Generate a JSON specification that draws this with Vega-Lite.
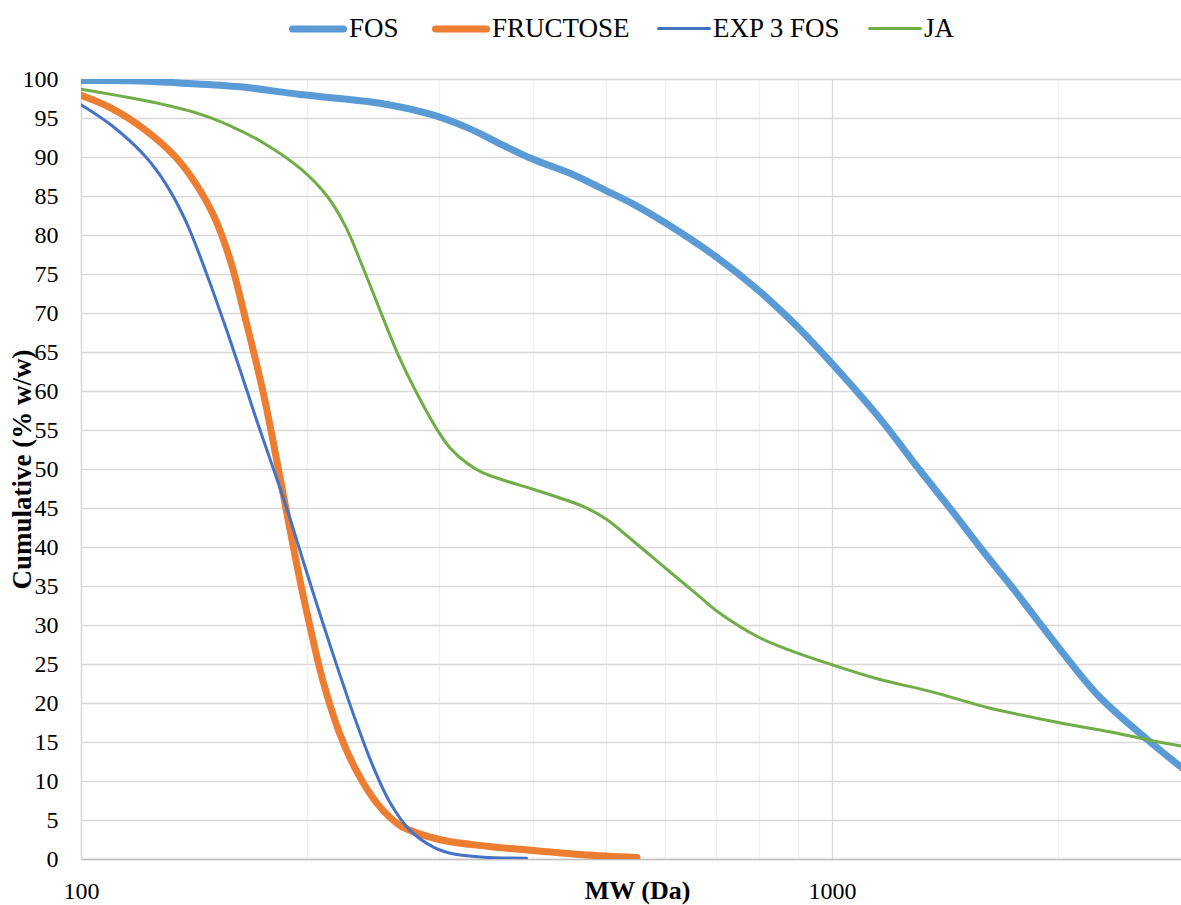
{
  "$schema": "https://vega.github.io/schema/vega-lite/v6.json",
  "width": 1100,
  "height": 780,
  "autosize": {"type": "none"},
  "padding": {"left": 81, "top": 79, "right": 0, "bottom": 46},
  "background": "white",
  "config": {"view": {"stroke": null}, "font": "Liberation Serif"},
  "data": {"values": [
    {"series": "FOS", "mw": 100, "pct": 99.8},
    {"series": "FOS", "mw": 120, "pct": 99.75},
    {"series": "FOS", "mw": 135, "pct": 99.5},
    {"series": "FOS", "mw": 163, "pct": 99.0},
    {"series": "FOS", "mw": 196, "pct": 98.0},
    {"series": "FOS", "mw": 250, "pct": 96.9},
    {"series": "FOS", "mw": 294, "pct": 95.4},
    {"series": "FOS", "mw": 328, "pct": 93.7},
    {"series": "FOS", "mw": 365, "pct": 91.5},
    {"series": "FOS", "mw": 400, "pct": 89.7},
    {"series": "FOS", "mw": 453, "pct": 87.7},
    {"series": "FOS", "mw": 500, "pct": 85.7},
    {"series": "FOS", "mw": 543, "pct": 84.0},
    {"series": "FOS", "mw": 601, "pct": 81.5},
    {"series": "FOS", "mw": 701, "pct": 77.2},
    {"series": "FOS", "mw": 798, "pct": 72.9},
    {"series": "FOS", "mw": 900, "pct": 68.2},
    {"series": "FOS", "mw": 1000, "pct": 63.5},
    {"series": "FOS", "mw": 1162, "pct": 56.3},
    {"series": "FOS", "mw": 1288, "pct": 50.7},
    {"series": "FOS", "mw": 1443, "pct": 44.7},
    {"series": "FOS", "mw": 1597, "pct": 39.2},
    {"series": "FOS", "mw": 1748, "pct": 34.5},
    {"series": "FOS", "mw": 2000, "pct": 27.2},
    {"series": "FOS", "mw": 2270, "pct": 20.8},
    {"series": "FOS", "mw": 2630, "pct": 15.3},
    {"series": "FOS", "mw": 2915, "pct": 11.8},
    {"series": "FOS", "mw": 3000, "pct": 10.9},
    {"series": "FRUCTOSE", "mw": 100, "pct": 97.9},
    {"series": "FRUCTOSE", "mw": 110, "pct": 96.2},
    {"series": "FRUCTOSE", "mw": 122, "pct": 93.4},
    {"series": "FRUCTOSE", "mw": 133, "pct": 90.2},
    {"series": "FRUCTOSE", "mw": 141, "pct": 87.1},
    {"series": "FRUCTOSE", "mw": 150, "pct": 82.6},
    {"series": "FRUCTOSE", "mw": 158, "pct": 76.8},
    {"series": "FRUCTOSE", "mw": 166, "pct": 68.8},
    {"series": "FRUCTOSE", "mw": 175, "pct": 59.6},
    {"series": "FRUCTOSE", "mw": 183, "pct": 50.2},
    {"series": "FRUCTOSE", "mw": 194, "pct": 37.5},
    {"series": "FRUCTOSE", "mw": 202, "pct": 29.6},
    {"series": "FRUCTOSE", "mw": 210, "pct": 22.8},
    {"series": "FRUCTOSE", "mw": 221, "pct": 16.1},
    {"series": "FRUCTOSE", "mw": 233, "pct": 11.2},
    {"series": "FRUCTOSE", "mw": 248, "pct": 7.1},
    {"series": "FRUCTOSE", "mw": 266, "pct": 4.3},
    {"series": "FRUCTOSE", "mw": 300, "pct": 2.5},
    {"series": "FRUCTOSE", "mw": 350, "pct": 1.6},
    {"series": "FRUCTOSE", "mw": 400, "pct": 1.1},
    {"series": "FRUCTOSE", "mw": 466, "pct": 0.55},
    {"series": "FRUCTOSE", "mw": 550, "pct": 0.2},
    {"series": "EXP 3 FOS", "mw": 100, "pct": 96.7},
    {"series": "EXP 3 FOS", "mw": 110, "pct": 94.0},
    {"series": "EXP 3 FOS", "mw": 122, "pct": 90.0},
    {"series": "EXP 3 FOS", "mw": 130, "pct": 86.4},
    {"series": "EXP 3 FOS", "mw": 138, "pct": 81.7},
    {"series": "EXP 3 FOS", "mw": 147, "pct": 75.0},
    {"series": "EXP 3 FOS", "mw": 155, "pct": 68.8},
    {"series": "EXP 3 FOS", "mw": 163, "pct": 62.6},
    {"series": "EXP 3 FOS", "mw": 171, "pct": 56.5},
    {"series": "EXP 3 FOS", "mw": 181, "pct": 49.6},
    {"series": "EXP 3 FOS", "mw": 188, "pct": 44.9},
    {"series": "EXP 3 FOS", "mw": 200, "pct": 36.6},
    {"series": "EXP 3 FOS", "mw": 210, "pct": 30.2},
    {"series": "EXP 3 FOS", "mw": 221, "pct": 23.7},
    {"series": "EXP 3 FOS", "mw": 233, "pct": 17.3},
    {"series": "EXP 3 FOS", "mw": 245, "pct": 11.8},
    {"series": "EXP 3 FOS", "mw": 258, "pct": 7.2},
    {"series": "EXP 3 FOS", "mw": 274, "pct": 3.7},
    {"series": "EXP 3 FOS", "mw": 295, "pct": 1.5},
    {"series": "EXP 3 FOS", "mw": 315, "pct": 0.6},
    {"series": "EXP 3 FOS", "mw": 350, "pct": 0.2},
    {"series": "EXP 3 FOS", "mw": 392, "pct": 0.1},
    {"series": "JA", "mw": 100, "pct": 98.7},
    {"series": "JA", "mw": 122, "pct": 97.2},
    {"series": "JA", "mw": 143, "pct": 95.6},
    {"series": "JA", "mw": 158, "pct": 94.0},
    {"series": "JA", "mw": 175, "pct": 91.8},
    {"series": "JA", "mw": 196, "pct": 88.5},
    {"series": "JA", "mw": 213, "pct": 84.9},
    {"series": "JA", "mw": 225, "pct": 81.1},
    {"series": "JA", "mw": 237, "pct": 76.0},
    {"series": "JA", "mw": 250, "pct": 70.4},
    {"series": "JA", "mw": 264, "pct": 64.8},
    {"series": "JA", "mw": 279, "pct": 60.0},
    {"series": "JA", "mw": 290, "pct": 57.0},
    {"series": "JA", "mw": 300, "pct": 54.6},
    {"series": "JA", "mw": 310, "pct": 52.7},
    {"series": "JA", "mw": 328, "pct": 50.6},
    {"series": "JA", "mw": 343, "pct": 49.5},
    {"series": "JA", "mw": 370, "pct": 48.4},
    {"series": "JA", "mw": 400, "pct": 47.4},
    {"series": "JA", "mw": 466, "pct": 45.2},
    {"series": "JA", "mw": 500, "pct": 43.6},
    {"series": "JA", "mw": 543, "pct": 40.8},
    {"series": "JA", "mw": 600, "pct": 37.3},
    {"series": "JA", "mw": 667, "pct": 33.6},
    {"series": "JA", "mw": 700, "pct": 31.9},
    {"series": "JA", "mw": 800, "pct": 28.4},
    {"series": "JA", "mw": 900, "pct": 26.4},
    {"series": "JA", "mw": 1000, "pct": 24.9},
    {"series": "JA", "mw": 1149, "pct": 23.1},
    {"series": "JA", "mw": 1362, "pct": 21.4},
    {"series": "JA", "mw": 1614, "pct": 19.4},
    {"series": "JA", "mw": 2000, "pct": 17.5},
    {"series": "JA", "mw": 2404, "pct": 16.1},
    {"series": "JA", "mw": 2630, "pct": 15.3},
    {"series": "JA", "mw": 2915, "pct": 14.5},
    {"series": "JA", "mw": 3000, "pct": 14.3}
  ]},
  "mark": {"type": "line", "interpolate": "catmull-rom", "strokeCap": "round", "strokeJoin": "round", "clip": true},
  "encoding": {
    "x": {
      "field": "mw", "type": "quantitative",
      "scale": {"type": "log", "domain": [100, 2915], "nice": false},
      "axis": {
        "values": [100, 200, 300, 400, 500, 600, 700, 800, 900, 1000, 2000],
        "format": "d",
        "labelExpr": "datum.value == 100 || datum.value == 1000 ? datum.label : ''",
        "gridColor": {"condition": {"test": "datum.value == 100 || datum.value == 1000", "value": "#D9D9D9"}, "value": "#EFEFEF"},
        "gridWidth": 1.3,
        "ticks": false,
        "domainColor": "#BFBFBF",
        "domainWidth": 1.3,
        "labelFont": "Liberation Serif",
        "labelFontSize": 24,
        "labelColor": "#000000",
        "labelPadding": 20,
        "labelFlush": false,
        "labelOverlap": false,
        "title": "MW (Da)",
        "titleFont": "Liberation Serif",
        "titleFontSize": 26,
        "titleFontWeight": "bold",
        "titleColor": "#000000",
        "titleX": 556,
        "titleY": 31,
        "titleAlign": "center",
        "titleBaseline": "middle"
      }
    },
    "y": {
      "field": "pct", "type": "quantitative",
      "scale": {"domain": [0, 100], "nice": false},
      "axis": {
        "values": [0, 5, 10, 15, 20, 25, 30, 35, 40, 45, 50, 55, 60, 65, 70, 75, 80, 85, 90, 95, 100],
        "gridColor": "#D9D9D9",
        "gridWidth": 1.3,
        "ticks": false,
        "domainColor": "#D9D9D9",
        "domainWidth": 1.3,
        "labelFont": "Liberation Serif",
        "labelFontSize": 24,
        "labelColor": "#000000",
        "labelPadding": 23,
        "labelFlush": false,
        "labelOverlap": false,
        "title": "Cumulative (% w/w)",
        "titleFont": "Liberation Serif",
        "titleFontSize": 27,
        "titleFontWeight": "bold",
        "titleColor": "#000000",
        "titleAngle": -90,
        "titleX": -59,
        "titleY": 390,
        "titleAlign": "center",
        "titleBaseline": "middle"
      }
    },
    "color": {
      "field": "series", "type": "nominal",
      "scale": {"domain": ["FOS", "FRUCTOSE", "EXP 3 FOS", "JA"], "range": ["#5B9BD5", "#ED7D31", "#4472C4", "#70AD47"]},
      "legend": {
        "title": null,
        "orient": "none",
        "legendX": 208,
        "legendY": -79,
        "direction": "horizontal",
        "symbolType": "stroke",
        "symbolSize": 2600,
        "labelFont": "Liberation Serif",
        "labelFontSize": 27,
        "labelColor": "#000000",
        "labelOffset": 2,
        "columnPadding": 22,
        "padding": 0,
        "encode": {"symbols": {"update": {"strokeCap": {"value": "round"}}}}
      }
    },
    "strokeWidth": {
      "field": "series", "type": "nominal",
      "scale": {"type": "ordinal", "domain": ["FOS", "FRUCTOSE", "EXP 3 FOS", "JA"], "range": [7, 7, 3, 3]},
      "legend": {
        "title": null,
        "orient": "none",
        "legendX": 208,
        "legendY": -79,
        "direction": "horizontal",
        "symbolType": "stroke",
        "symbolSize": 2600,
        "labelFont": "Liberation Serif",
        "labelFontSize": 27,
        "labelColor": "#000000",
        "labelOffset": 2,
        "columnPadding": 22,
        "padding": 0,
        "encode": {"symbols": {"update": {"strokeCap": {"value": "round"}}}}
      }
    }
  }
}
